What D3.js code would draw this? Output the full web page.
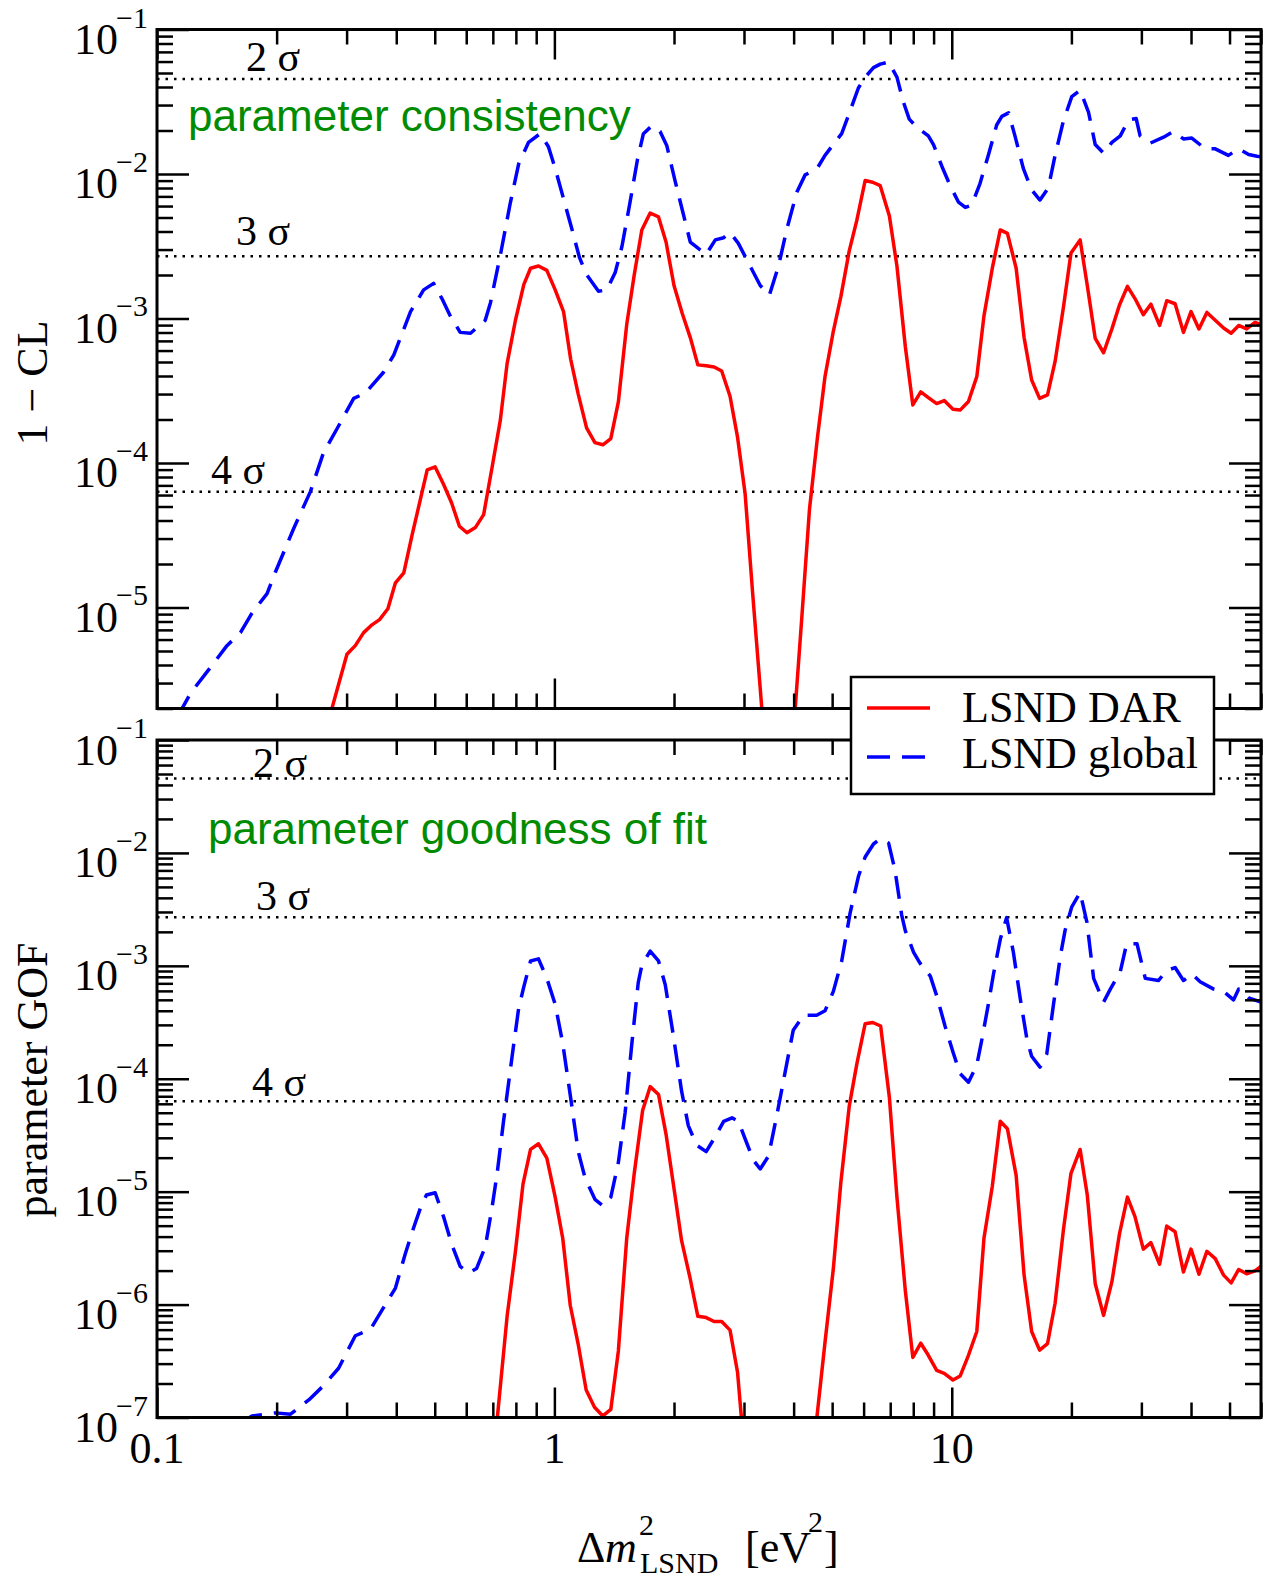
<!DOCTYPE html>
<html>
<head>
<meta charset="utf-8">
<script src="https://d3js.org/d3.v7.min.js"></script>
<style>
  body { margin: 0; background: #fff; }
  text.serif { font-family: "Liberation Serif", "Times New Roman", serif; }
  text.sans { font-family: "Liberation Sans", Arial, sans-serif; }
</style>
</head>
<body>
<svg id="chart" width="1265" height="1579"></svg>
<script>
// all curves stored as [log10(dm^2 / eV^2), log10(value)]
var topDar = [[-0.60,-6.0],[-0.560,-5.70],[-0.522,-5.324],[-0.501,-5.264],[-0.480,-5.174],[-0.459,-5.120],[-0.440,-5.084],[-0.419,-5.009],[-0.400,-4.829],[-0.379,-4.760],[-0.358,-4.498],[-0.320,-4.048],[-0.300,-4.027],[-0.279,-4.147],[-0.259,-4.273],[-0.239,-4.438],[-0.220,-4.483],[-0.199,-4.447],[-0.178,-4.357],[-0.157,-4.033],[-0.136,-3.703],[-0.119,-3.312],[-0.098,-3.012],[-0.077,-2.766],[-0.060,-2.652],[-0.040,-2.637],[-0.019,-2.667],[0.002,-2.802],[0.023,-2.952],[0.041,-3.282],[0.060,-3.523],[0.081,-3.757],[0.102,-3.859],[0.122,-3.874],[0.142,-3.832],[0.161,-3.577],[0.182,-3.042],[0.201,-2.697],[0.220,-2.387],[0.241,-2.270],[0.262,-2.297],[0.281,-2.471],[0.301,-2.772],[0.322,-2.967],[0.342,-3.132],[0.361,-3.321],[0.382,-3.327],[0.402,-3.336],[0.421,-3.363],[0.442,-3.538],[0.461,-3.823],[0.480,-4.213],[0.499,-4.904],[0.522,-5.70],[0.541,-6.5],[0.563,-7.3],[0.584,-6.5],[0.606,-5.70],[0.623,-5.054],[0.642,-4.318],[0.662,-3.823],[0.681,-3.402],[0.701,-3.102],[0.721,-2.847],[0.742,-2.532],[0.761,-2.321],[0.782,-2.045],[0.801,-2.057],[0.820,-2.081],[0.843,-2.291],[0.862,-2.637],[0.883,-3.192],[0.902,-3.598],[0.922,-3.508],[0.941,-3.547],[0.962,-3.589],[0.981,-3.568],[1.003,-3.628],[1.021,-3.634],[1.042,-3.574],[1.063,-3.402],[1.081,-2.982],[1.102,-2.652],[1.122,-2.387],[1.140,-2.411],[1.162,-2.652],[1.182,-3.132],[1.201,-3.426],[1.221,-3.553],[1.241,-3.529],[1.260,-3.297],[1.281,-2.922],[1.300,-2.547],[1.323,-2.456],[1.341,-2.772],[1.361,-3.138],[1.382,-3.237],[1.403,-3.072],[1.422,-2.907],[1.442,-2.778],[1.461,-2.862],[1.482,-2.973],[1.501,-2.901],[1.523,-3.048],[1.541,-2.877],[1.562,-2.898],[1.583,-3.096],[1.602,-2.952],[1.622,-3.072],[1.642,-2.958],[1.663,-3.012],[1.684,-3.066],[1.703,-3.102],[1.722,-3.048],[1.742,-3.072],[1.763,-3.027],[1.778,-3.042]];

var topGlobal = [[-1.0,-5.95],[-0.937,-5.70],[-0.916,-5.595],[-0.857,-5.384],[-0.824,-5.264],[-0.790,-5.174],[-0.761,-5.039],[-0.723,-4.904],[-0.702,-4.754],[-0.656,-4.453],[-0.614,-4.198],[-0.581,-3.928],[-0.547,-3.763],[-0.505,-3.553],[-0.476,-3.517],[-0.430,-3.372],[-0.404,-3.252],[-0.362,-2.952],[-0.329,-2.802],[-0.304,-2.757],[-0.283,-2.862],[-0.262,-2.982],[-0.237,-3.096],[-0.211,-3.102],[-0.174,-3.012],[-0.161,-2.892],[-0.136,-2.562],[-0.111,-2.201],[-0.090,-1.931],[-0.065,-1.781],[-0.036,-1.721],[-0.015,-1.811],[0.002,-1.961],[0.023,-2.171],[0.044,-2.381],[0.063,-2.577],[0.081,-2.697],[0.111,-2.811],[0.132,-2.802],[0.153,-2.682],[0.170,-2.502],[0.190,-2.201],[0.209,-1.901],[0.224,-1.721],[0.245,-1.667],[0.266,-1.706],[0.283,-1.805],[0.304,-2.051],[0.323,-2.261],[0.342,-2.471],[0.363,-2.517],[0.382,-2.556],[0.405,-2.456],[0.426,-2.441],[0.442,-2.405],[0.463,-2.480],[0.484,-2.592],[0.518,-2.772],[0.541,-2.838],[0.564,-2.637],[0.585,-2.381],[0.610,-2.126],[0.631,-2.006],[0.660,-1.967],[0.681,-1.871],[0.702,-1.796],[0.723,-1.721],[0.744,-1.565],[0.765,-1.405],[0.782,-1.330],[0.803,-1.264],[0.820,-1.240],[0.841,-1.225],[0.862,-1.330],[0.878,-1.50],[0.893,-1.62],[0.912,-1.676],[0.941,-1.736],[0.954,-1.796],[0.975,-1.946],[0.996,-2.081],[1.017,-2.195],[1.034,-2.231],[1.050,-2.216],[1.071,-2.066],[1.092,-1.871],[1.113,-1.661],[1.126,-1.601],[1.143,-1.577],[1.159,-1.736],[1.180,-1.961],[1.201,-2.111],[1.222,-2.180],[1.243,-2.096],[1.260,-1.871],[1.281,-1.631],[1.302,-1.465],[1.323,-1.420],[1.344,-1.571],[1.361,-1.796],[1.382,-1.856],[1.403,-1.781],[1.424,-1.736],[1.445,-1.625],[1.464,-1.616],[1.474,-1.736],[1.499,-1.787],[1.533,-1.745],[1.558,-1.706],[1.583,-1.757],[1.604,-1.751],[1.638,-1.826],[1.663,-1.826],[1.696,-1.871],[1.722,-1.826],[1.747,-1.865],[1.768,-1.877],[1.778,-1.88]];

var botDar = [[-0.17,-7.5],[-0.144,-7.017],[-0.119,-6.104],[-0.098,-5.528],[-0.079,-4.933],[-0.060,-4.626],[-0.040,-4.576],[-0.019,-4.703],[0.002,-5.048],[0.021,-5.413],[0.040,-6.008],[0.060,-6.353],[0.080,-6.756],[0.101,-6.909],[0.122,-6.986],[0.142,-6.929],[0.161,-6.411],[0.182,-5.413],[0.201,-4.837],[0.222,-4.281],[0.241,-4.070],[0.262,-4.139],[0.281,-4.492],[0.301,-4.972],[0.320,-5.432],[0.341,-5.758],[0.361,-6.104],[0.382,-6.115],[0.402,-6.150],[0.421,-6.150],[0.442,-6.226],[0.461,-6.602],[0.471,-7.017],[0.49,-7.6],[0.53,-8.2],[0.57,-8.4],[0.61,-8.0],[0.645,-7.5],[0.660,-7.017],[0.681,-6.334],[0.702,-5.681],[0.721,-4.914],[0.742,-4.242],[0.761,-3.870],[0.782,-3.513],[0.801,-3.502],[0.821,-3.533],[0.843,-4.166],[0.862,-5.048],[0.883,-5.873],[0.902,-6.468],[0.922,-6.342],[0.941,-6.449],[0.962,-6.583],[0.981,-6.610],[1.003,-6.668],[1.021,-6.633],[1.042,-6.449],[1.063,-6.238],[1.081,-5.413],[1.102,-4.952],[1.122,-4.377],[1.140,-4.442],[1.162,-4.856],[1.182,-5.739],[1.201,-6.238],[1.221,-6.403],[1.241,-6.345],[1.260,-5.988],[1.281,-5.336],[1.300,-4.837],[1.323,-4.626],[1.341,-5.029],[1.361,-5.816],[1.382,-6.096],[1.403,-5.797],[1.422,-5.374],[1.442,-5.048],[1.461,-5.221],[1.482,-5.509],[1.501,-5.451],[1.523,-5.643],[1.541,-5.305],[1.562,-5.355],[1.583,-5.712],[1.602,-5.509],[1.622,-5.731],[1.642,-5.528],[1.663,-5.593],[1.684,-5.739],[1.703,-5.808],[1.722,-5.689],[1.742,-5.727],[1.763,-5.701],[1.778,-5.662]];

var botGlobal = [[-1.0,-7.6],[-0.85,-7.25],[-0.79,-7.05],[-0.761,-6.986],[-0.702,-6.959],[-0.664,-6.971],[-0.618,-6.844],[-0.581,-6.718],[-0.543,-6.564],[-0.501,-6.276],[-0.463,-6.219],[-0.430,-6.027],[-0.400,-5.854],[-0.375,-5.547],[-0.354,-5.317],[-0.337,-5.144],[-0.322,-5.029],[-0.300,-5.010],[-0.279,-5.221],[-0.258,-5.470],[-0.237,-5.662],[-0.216,-5.720],[-0.196,-5.681],[-0.174,-5.490],[-0.157,-5.144],[-0.144,-4.837],[-0.128,-4.377],[-0.115,-4.031],[-0.102,-3.686],[-0.090,-3.379],[-0.077,-3.187],[-0.060,-2.957],[-0.040,-2.938],[-0.019,-3.111],[0.002,-3.341],[0.021,-3.686],[0.040,-4.147],[0.060,-4.645],[0.077,-4.876],[0.102,-5.068],[0.122,-5.125],[0.142,-5.048],[0.161,-4.741],[0.178,-4.300],[0.195,-3.686],[0.211,-3.149],[0.220,-2.995],[0.241,-2.869],[0.262,-2.957],[0.279,-3.168],[0.299,-3.609],[0.320,-4.108],[0.337,-4.415],[0.358,-4.588],[0.382,-4.645],[0.405,-4.511],[0.426,-4.377],[0.447,-4.346],[0.463,-4.377],[0.484,-4.569],[0.501,-4.722],[0.518,-4.799],[0.539,-4.684],[0.560,-4.319],[0.581,-3.935],[0.601,-3.571],[0.627,-3.437],[0.660,-3.437],[0.681,-3.398],[0.702,-3.226],[0.723,-2.957],[0.744,-2.535],[0.765,-2.209],[0.782,-2.036],[0.803,-1.921],[0.820,-1.875],[0.841,-1.913],[0.857,-2.151],[0.874,-2.55],[0.883,-2.688],[0.904,-2.880],[0.920,-2.976],[0.946,-3.091],[0.962,-3.264],[0.983,-3.533],[1.003,-3.763],[1.021,-3.955],[1.042,-4.031],[1.063,-3.878],[1.076,-3.648],[1.092,-3.341],[1.105,-3.072],[1.122,-2.765],[1.138,-2.573],[1.155,-2.880],[1.172,-3.283],[1.189,-3.648],[1.201,-3.801],[1.222,-3.897],[1.239,-3.782],[1.256,-3.341],[1.273,-2.919],[1.285,-2.688],[1.302,-2.477],[1.323,-2.351],[1.340,-2.612],[1.357,-3.111],[1.382,-3.322],[1.399,-3.206],[1.424,-3.053],[1.440,-2.804],[1.466,-2.804],[1.487,-3.111],[1.520,-3.130],[1.541,-3.041],[1.562,-3.015],[1.583,-3.130],[1.604,-3.072],[1.625,-3.141],[1.659,-3.206],[1.684,-3.226],[1.709,-3.302],[1.722,-3.206],[1.747,-3.283],[1.778,-3.322]];

// sigma levels (1 - CL)
var sigmaNames = ['2 σ', '3 σ', '4 σ'];
var sigmaValues = [0.0455, 0.0027, 6.334e-5];

var xTickValues = [0.1, 1, 10];
var xTickLabels = ['0.1', '1', '10'];
var topYExps = [-1, -2, -3, -4, -5];
var botYExps = [-1, -2, -3, -4, -5, -6, -7];

var svg = d3.select('#chart');
var left = 157, right = 1261;
var x = d3.scaleLog().domain([0.1, 60]).range([left, right]);

var panels = [
  { id: 'top', y: d3.scaleLog().domain([2e-6, 0.1]).range([708.5, 29.5]),
    dar: topDar, glob: topGlobal, exps: topYExps,
    sigmaLabelPos: [[246, 71], [236, 244.5], [211, 483.5]],
    note: 'parameter consistency', notePos: [188, 131] },
  { id: 'bot', y: d3.scaleLog().domain([1e-7, 0.1]).range([1417.5, 740]),
    dar: botDar, glob: botGlobal, exps: botYExps,
    sigmaLabelPos: [[253, 777], [256, 910], [252, 1095.5]],
    note: 'parameter goodness of fit', notePos: [208, 844] }
];

function minors(lo, hi, domain) {
  var t = [];
  for (var e = lo; e <= hi; e++)
    for (var m = 2; m <= 9; m++) {
      var v = m * Math.pow(10, e);
      if (v >= domain[0] * 0.999 && v <= domain[1]) t.push(v);
    }
  return t;
}
var xMinor = minors(-1, 1, [0.1, 60]);

function ticks(g, axis, values, size, transform) {
  g.append('g').attr('transform', transform)
    .call(axis.tickValues(values).tickSize(-size).tickFormat(''))
    .call(function(s) { s.select('.domain').remove(); })
    .selectAll('line').attr('stroke', '#000').attr('stroke-width', 2.5);
}

panels.forEach(function(p) {
  var y = p.y;
  var top = y.range()[1], bottom = y.range()[0];
  var g = svg.append('g');

  g.append('clipPath').attr('id', 'clip-' + p.id)
    .append('rect').attr('x', left).attr('y', top)
    .attr('width', right - left).attr('height', bottom - top);

  // sigma lines
  sigmaValues.forEach(function(v, i) {
    g.append('line')
      .attr('x1', left).attr('x2', right)
      .attr('y1', y(v)).attr('y2', y(v))
      .attr('stroke', '#000').attr('stroke-width', 2.5)
      .attr('stroke-dasharray', '2.5,6');
    g.append('text').attr('class', 'serif')
      .attr('x', p.sigmaLabelPos[i][0]).attr('y', p.sigmaLabelPos[i][1])
      .attr('font-size', 42).text(sigmaNames[i]);
  });

  g.append('text').attr('class', 'sans')
    .attr('x', p.notePos[0]).attr('y', p.notePos[1])
    .attr('font-size', 44).attr('fill', '#008b00').text(p.note);

  var line = d3.line()
    .x(function(d) { return x(Math.pow(10, d[0])); })
    .y(function(d) { return y(Math.pow(10, d[1])); });

  var plot = g.append('g').attr('clip-path', 'url(#clip-' + p.id + ')');
  plot.append('path').datum(p.glob).attr('d', line)
    .attr('fill', 'none').attr('stroke', '#0000ff').attr('stroke-width', 3.5)
    .attr('stroke-dasharray', '23,12').attr('stroke-linejoin', 'round');
  plot.append('path').datum(p.dar).attr('d', line)
    .attr('fill', 'none').attr('stroke', '#ff0000').attr('stroke-width', 3.5)
    .attr('stroke-linejoin', 'round');

  // ticks on all four sides, pointing inward
  var d = y.domain();
  var yMajor = p.exps.map(function(e) { return Math.pow(10, e); });
  var yMinor = minors(p.exps[p.exps.length - 1] - 1, -2, d);
  ticks(g, d3.axisLeft(y), yMinor, 16, 'translate(' + left + ',0)');
  ticks(g, d3.axisLeft(y), yMajor, 32, 'translate(' + left + ',0)');
  ticks(g, d3.axisRight(y), yMinor, 16, 'translate(' + right + ',0)');
  ticks(g, d3.axisRight(y), yMajor, 32, 'translate(' + right + ',0)');
  ticks(g, d3.axisTop(x), xMinor, 15, 'translate(0,' + top + ')');
  ticks(g, d3.axisTop(x), xTickValues, 30, 'translate(0,' + top + ')');
  ticks(g, d3.axisBottom(x), xMinor, 15, 'translate(0,' + bottom + ')');
  ticks(g, d3.axisBottom(x), xTickValues, 30, 'translate(0,' + bottom + ')');

  g.append('rect').attr('x', left).attr('y', top)
    .attr('width', right - left).attr('height', bottom - top)
    .attr('fill', 'none').attr('stroke', '#000').attr('stroke-width', 3);

  // y labels 10^n
  p.exps.forEach(function(e) {
    var yy = y(Math.pow(10, e));
    g.append('text').attr('class', 'serif').attr('font-size', 44)
      .attr('text-anchor', 'end').attr('x', 118).attr('y', yy + 24.5).text('10');
    g.append('text').attr('class', 'serif').attr('font-size', 30)
      .attr('x', 116).attr('y', yy - 2).text('\u2212' + Math.abs(e));
  });
});

// x tick labels
xTickValues.forEach(function(v, i) {
  svg.append('text').attr('class', 'serif').attr('font-size', 44)
    .attr('text-anchor', 'middle').attr('x', x(v)).attr('y', 1463)
    .text(xTickLabels[i]);
});

// axis titles
svg.append('text').attr('class', 'serif').attr('font-size', 44)
  .attr('text-anchor', 'middle').attr('transform', 'translate(47,383) rotate(-90)')
  .text('1 \u2212 CL');
svg.append('text').attr('class', 'serif').attr('font-size', 44)
  .attr('text-anchor', 'middle').attr('transform', 'translate(47,1080) rotate(-90)')
  .text('parameter GOF');

var xt = svg.append('g').attr('class', 'xtitle');
xt.append('text').attr('class', 'serif').attr('font-size', 44).attr('x', 577).attr('y', 1562).text('\u0394');
xt.append('text').attr('class', 'serif').attr('font-size', 44).attr('font-style', 'italic').attr('x', 605).attr('y', 1562).text('m');
xt.append('text').attr('class', 'serif').attr('font-size', 30).attr('x', 639).attr('y', 1535).text('2');
xt.append('text').attr('class', 'serif').attr('font-size', 30).attr('x', 640).attr('y', 1573).text('LSND');
xt.append('text').attr('class', 'serif').attr('font-size', 44).attr('x', 745).attr('y', 1562).text('[eV');
xt.append('text').attr('class', 'serif').attr('font-size', 30).attr('x', 808).attr('y', 1532).text('2');
xt.append('text').attr('class', 'serif').attr('font-size', 44).attr('x', 824).attr('y', 1562).text(']');

// legend
var lg = svg.append('g');
lg.append('rect').attr('x', 851).attr('y', 677).attr('width', 363).attr('height', 117)
  .attr('fill', '#fff').attr('stroke', '#000').attr('stroke-width', 2.5);
lg.append('line').attr('x1', 867).attr('x2', 930).attr('y1', 708).attr('y2', 708)
  .attr('stroke', '#ff0000').attr('stroke-width', 3.5);
lg.append('line').attr('x1', 867).attr('x2', 927).attr('y1', 757).attr('y2', 757)
  .attr('stroke', '#0000ff').attr('stroke-width', 3.5).attr('stroke-dasharray', '23,12');
lg.append('text').attr('class', 'serif').attr('font-size', 44).attr('x', 962).attr('y', 722).text('LSND DAR');
lg.append('text').attr('class', 'serif').attr('font-size', 44).attr('x', 962).attr('y', 768).text('LSND global');
</script>
</body>
</html>
